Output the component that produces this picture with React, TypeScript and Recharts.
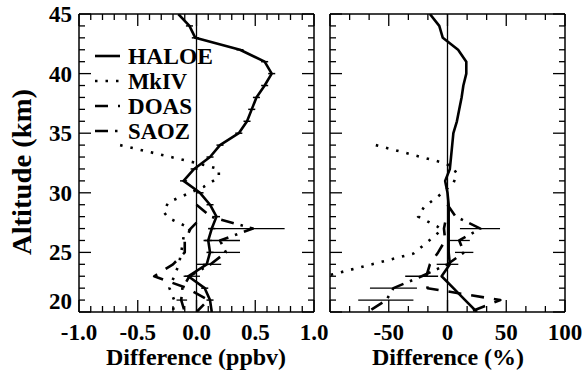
import React from "react";
import { ScatterChart, Scatter, XAxis, YAxis, ReferenceLine, ErrorBar } from "recharts";

// altitude axis (km) and difference axes
const altTicks = [20, 21, 22, 23, 24, 25, 26, 27, 28, 29, 30, 31, 32, 33, 34, 35, 36, 37, 38, 39, 40, 41, 42, 43, 44, 45];
const ppbvTicks = [-1.0, -0.9, -0.8, -0.7, -0.6, -0.5, -0.4, -0.3, -0.2, -0.1, 0.0, 0.1, 0.2, 0.3, 0.4, 0.5, 0.6, 0.7, 0.8, 0.9, 1.0];
const pctTicks = [-100, -83.3, -66.7, -50, -33.3, -16.7, 0, 16.7, 33.3, 50, 66.7, 83.3, 100];

// HALOE
const haloeAlt = [45, 44, 43, 42, 41, 40, 39, 38, 37, 36, 35, 34, 33, 32, 31, 30, 29, 28, 27, 26, 25, 24, 23, 22, 21, 20];
const haloePpbv = [-0.155, -0.06, -0.01, 0.37, 0.58, 0.64, 0.58, 0.51, 0.47, 0.43, 0.36, 0.2, 0.115, -0.02, -0.11, 0.03, 0.115, 0.17, 0.13, 0.1, 0.115, 0.087, -0.07, 0.07, 0.115, 0.13];
const haloePpbvErr = [0, 0.03, 0.03, 0.03, 0.03, 0.03, 0.03, 0.03, 0.03, 0.03, 0.03, 0.03, 0.03, 0.03, 0.03, 0.03, 0.03, 0.03, 0.03, 0.03, 0.03, 0.03, 0.03, 0.03, 0.03, 0];
const haloePct = [-15, -7, -4, 9, 16, 16, 13.5, 12, 10, 8, 5, 4, 3, 2, -2, 0, 1, 1, 1, 1, 1, 2, -5, 5, 15, 25];

// MkIV
const mkivPpbvAlt = [34, 32.5, 32, 31.3, 30.5, 29.2, 28.4, 27.9, 27, 26.3, 25, 24, 23, 22, 21, 20];
const mkivPpbv = [-0.65, 0.0, 0.19, 0.19, 0.06, -0.24, -0.28, -0.24, -0.05, -0.11, -0.13, -0.15, -0.19, -0.23, -0.19, -0.2];
const mkivPctAlt = [34, 32.5, 32.2, 31.6, 30.8, 29.7, 28.8, 28, 27.2, 26.9, 26.2, 24.9, 23.1];
const mkivPct = [-61, -3, 4, 8, 5, -8, -20, -25, -9, -5, -13, -29, -100];

// DOAS
const doasAlt = [27.5, 27, 26, 25, 24, 23, 22, 21, 20];
const doasPpbv = [0.0, -0.05, -0.1, -0.1, -0.2, -0.36, -0.08, 0.1, 0.0];
const doasPct = [-2, -3, -2, -8, -15, -18, -17, 45, 19];

// SAOZ
const saozAlt = [29, 28, 27, 26, 25, 24, 23, 22, 21, 20];
const saozPpbv = [0.0, 0.12, 0.48, 0.2, 0.25, 0.12, -0.06, -0.12, -0.13, -0.1];
const saozPct = [0, 7, 28, 10, 14, 0, -22, -46, -52, -68];

// error bars (low / high ends)
const barPpbvAlt = [27, 26, 25, 24, 23, 21];
const barPpbvLo = [0.1, 0.06, 0.1, 0.0, -0.11, -0.17];
const barPpbvHi = [0.75, 0.37, 0.37, 0.21, 0.03, -0.08];
const barPctAlt = [27, 26, 25, 24, 23, 22, 21];
const barPctLo = [10.6, 0.7, 6.4, -9.2, -36, -66, -76];
const barPctHi = [44.7, 19, 22, 9.2, -8, -26, -29];

const legendItems = ["HALOE", "MkIV", "DOAS", "SAOZ"];

const ink = "#000";
const serif = "'Liberation Serif', 'Times New Roman', serif";

const pts = (alts: number[], vals: number[], err?: number[]) =>
  alts.map((a, i) => ({ alt: a, v: vals[i], e: err ? err[i] : 0 }));
const bars = (alts: number[], lo: number[], hi: number[]) =>
  alts.map((a, i) => ({ alt: a, v: (lo[i] + hi[i]) / 2, e: (hi[i] - lo[i]) / 2 }));

const lineBase = { stroke: ink, strokeWidth: 2.6, strokeLinejoin: "round" as const };
const solid = { ...lineBase };
const dotted = { ...lineBase, strokeDasharray: "2.5 8" };
const dashed = { ...lineBase, strokeDasharray: "13 10" };
const dashDot = { ...lineBase, strokeDasharray: "13 7 2.5 7" };
const legendStyles = [solid, dotted, dashed, dashDot];
const legendWidths = [85, 59, 64, 62];

const noShape = () => <g />;

type Side = "bottom" | "top" | "left" | "right";

function makeTick(side: Side, isMajor: (v: number) => boolean, label?: (v: number) => string | null) {
  return (props: any) => {
    const { x, y, payload } = props;
    const v = Number(payload.value);
    const len = isMajor(v) ? 12 : 6;
    let x2 = x;
    let y2 = y;
    if (side === "bottom") y2 = y - len;
    if (side === "top") y2 = y + len;
    if (side === "left") x2 = x + len;
    if (side === "right") x2 = x - len;
    const txt = label ? label(v) : null;
    return (
      <g>
        <line x1={x} y1={y} x2={x2} y2={y2} stroke={ink} strokeWidth={1.3} />
        {txt !== null && side === "bottom" && (
          <text x={x} y={y + 28} textAnchor="middle" fontFamily={serif} fontWeight="bold" fontSize={23} fill={ink}>
            {txt}
          </text>
        )}
        {txt !== null && side === "left" && (
          <text x={x - 7} y={y + (v === 20 ? -11 : 0)} dy="0.35em" textAnchor="end" fontFamily={serif} fontWeight="bold" fontSize={23} fill={ink}>
            {txt}
          </text>
        )}
      </g>
    );
  };
}

const altMajor = (v: number) => v % 5 === 0;
const ppbvMajor = (v: number) => Math.abs(v * 2 - Math.round(v * 2)) < 1e-6;
const pctMajor = (v: number) => Math.abs(v / 50 - Math.round(v / 50)) < 1e-6;
const altLabel = (v: number) => (altMajor(v) ? String(v) : null);
const ppbvLabel = (v: number) => (ppbvMajor(v) ? v.toFixed(1) : null);
const pctLabel = (v: number) => (pctMajor(v) && v > -100 ? String(Math.round(v)) : null);

const axisLine = { stroke: ink, strokeWidth: 1.5 };

function Frame({ xDomain, xTicks, xMajor, xLabel, yLabel }: any) {
  return [
    <XAxis key="xb" xAxisId="b" type="number" dataKey="v" domain={xDomain} ticks={xTicks} interval={0} height={1}
      tickSize={0} tickMargin={0} tickLine={false} axisLine={axisLine} allowDataOverflow tick={makeTick("bottom", xMajor, xLabel)} />,
    <XAxis key="xt" xAxisId="t" orientation="top" type="number" dataKey="v" domain={xDomain} ticks={xTicks} interval={0} height={1}
      tickSize={0} tickMargin={0} tickLine={false} axisLine={axisLine} allowDataOverflow tick={makeTick("top", xMajor)} />,
    <YAxis key="yl" yAxisId="l" type="number" dataKey="alt" domain={[20, 45]} ticks={altTicks} interval={0} width={1}
      tickSize={0} tickMargin={0} tickLine={false} axisLine={axisLine} allowDataOverflow tick={makeTick("left", altMajor, yLabel)} />,
    <YAxis key="yr" yAxisId="r" orientation="right" type="number" dataKey="alt" domain={[20, 45]} ticks={altTicks} interval={0} width={1}
      tickSize={0} tickMargin={0} tickLine={false} axisLine={axisLine} allowDataOverflow tick={makeTick("right", altMajor)} />,
  ];
}

export default function App() {
  const common = { xAxisId: "b", yAxisId: "l", isAnimationActive: false, shape: noShape, legendType: "none" as const };
  return (
    <div style={{ position: "absolute", left: 0, top: 0, width: 582, height: 371, background: "#fff" }}>
      <div style={{ position: "absolute", left: 0, top: 0 }}>
        <ScatterChart width={330} height={371} margin={{ top: 13, left: 78, right: 15, bottom: 58 }}>
          {Frame({ xDomain: [-1, 1], xTicks: ppbvTicks, xMajor: ppbvMajor, xLabel: ppbvLabel, yLabel: altLabel })}
          <ReferenceLine x={0} xAxisId="b" yAxisId="l" stroke={ink} strokeWidth={1.3} />
          <Scatter {...common} data={pts(mkivPpbvAlt, mkivPpbv)} line={dotted} />
          <Scatter {...common} data={pts(doasAlt, doasPpbv)} line={dashed} />
          <Scatter {...common} data={pts(saozAlt, saozPpbv)} line={dashDot} />
          <Scatter {...common} data={bars(barPpbvAlt, barPpbvLo, barPpbvHi)}>
            <ErrorBar dataKey="e" direction="x" width={0} stroke={ink} strokeWidth={1.3} isAnimationActive={false} />
          </Scatter>
          <Scatter {...common} data={pts(haloeAlt, haloePpbv, haloePpbvErr)} line={solid}>
            <ErrorBar dataKey="e" direction="x" width={0} stroke={ink} strokeWidth={1.5} isAnimationActive={false} />
          </Scatter>
        </ScatterChart>
      </div>
      <div style={{ position: "absolute", left: 322, top: 0 }}>
        <ScatterChart width={260} height={371} margin={{ top: 13, left: 7, right: 16, bottom: 58 }}>
          {Frame({ xDomain: [-100, 100], xTicks: pctTicks, xMajor: pctMajor, xLabel: pctLabel })}
          <ReferenceLine x={0} xAxisId="b" yAxisId="l" stroke={ink} strokeWidth={1.3} />
          <Scatter {...common} data={pts(mkivPctAlt, mkivPct)} line={dotted} />
          <Scatter {...common} data={pts(doasAlt, doasPct)} line={dashed} />
          <Scatter {...common} data={pts(saozAlt, saozPct)} line={dashDot} />
          <Scatter {...common} data={bars(barPctAlt, barPctLo, barPctHi)}>
            <ErrorBar dataKey="e" direction="x" width={0} stroke={ink} strokeWidth={1.3} isAnimationActive={false} />
          </Scatter>
          <Scatter {...common} data={pts(haloeAlt, haloePct)} line={solid} />
        </ScatterChart>
      </div>
      <svg width={582} height={371} style={{ position: "absolute", left: 0, top: 0, pointerEvents: "none" }}>
        <g fontFamily={serif} fontWeight="bold" fill={ink}>
          <text x={196} y={365} textAnchor="middle" fontSize={24}>Difference (ppbv)</text>
          <text x={448} y={365} textAnchor="middle" fontSize={24}>Difference (%)</text>
          <text transform="translate(31,172) rotate(-90)" textAnchor="middle" fontSize={27} textLength={166} lengthAdjust="spacingAndGlyphs">
            Altitude (km)
          </text>
          {legendItems.map((name, i) => {
            const y = 56 + i * 25;
            return (
              <g key={name}>
                <line x1={95} x2={120} y1={y} y2={y} {...legendStyles[i]} />
                <text x={128} y={y + 8} fontSize={22.5} textLength={legendWidths[i]} lengthAdjust="spacingAndGlyphs">{name}</text>
              </g>
            );
          })}
        </g>
      </svg>
    </div>
  );
}
